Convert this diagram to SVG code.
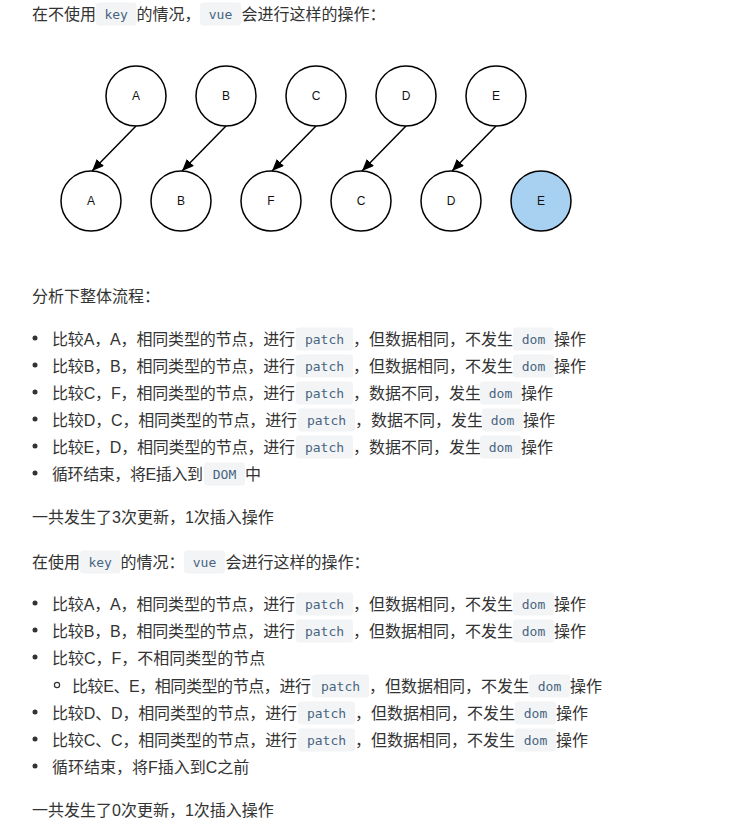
<svg xmlns="http://www.w3.org/2000/svg" width="731" height="829" viewBox="0 0 731 829">
<style>
.t{font-family:"Liberation Sans","Noto Sans CJK SC",sans-serif;font-size:16px;fill:#333}
.c{font-family:"DejaVu Sans Mono","Liberation Mono",monospace;font-size:13px;fill:#476582;text-anchor:middle}
.chip{fill:#f3f4f5}
.n circle{fill:#fff;stroke:#000;stroke-width:1.5}
.n text{font-family:"Liberation Sans",Arial,sans-serif;font-size:12px;fill:#111;text-anchor:middle}
.hl circle{fill:#a8d0f0}
.e line{stroke:#000;stroke-width:1.5}
.dot{fill:#333}
.odot{fill:none;stroke:#333;stroke-width:1.2}
</style>
<defs>
<marker id="ah" markerUnits="userSpaceOnUse" markerWidth="12" markerHeight="10" viewBox="0 0 12 10" refX="12" refY="5" orient="auto"><path d="M0,0 L12,5 L0,10 z" fill="#000"/></marker>
</defs>
<rect width="731" height="829" fill="#fff"/>

<g id="line1">
<text class="t" x="32" y="20">在不使用</text>
<rect class="chip" x="96" y="2.5" width="40.5" height="23" rx="3"/><text class="c" x="116.2" y="19">key</text>
<text class="t" x="136.5" y="20">的情况，</text>
<rect class="chip" x="200" y="2.5" width="41" height="23" rx="3"/><text class="c" x="220.5" y="19">vue</text>
<text class="t" x="241.5" y="20">会进行这样的操作：</text>
</g>

<g id="top-A" class="n"><circle cx="136" cy="96" r="30"/><text x="136" y="100">A</text></g>
<g id="top-B" class="n"><circle cx="226" cy="96" r="30"/><text x="226" y="100">B</text></g>
<g id="top-C" class="n"><circle cx="316" cy="96" r="30"/><text x="316" y="100">C</text></g>
<g id="top-D" class="n"><circle cx="406" cy="96" r="30"/><text x="406" y="100">D</text></g>
<g id="top-E" class="n"><circle cx="496" cy="96" r="30"/><text x="496" y="100">E</text></g>
<g id="bot-A" class="n"><circle cx="91" cy="201" r="30"/><text x="91" y="205">A</text></g>
<g id="bot-B" class="n"><circle cx="181" cy="201" r="30"/><text x="181" y="205">B</text></g>
<g id="bot-F" class="n"><circle cx="271" cy="201" r="30"/><text x="271" y="205">F</text></g>
<g id="bot-C" class="n"><circle cx="361" cy="201" r="30"/><text x="361" y="205">C</text></g>
<g id="bot-D" class="n"><circle cx="451" cy="201" r="30"/><text x="451" y="205">D</text></g>
<g id="bot-E" class="n hl"><circle cx="541" cy="201" r="30"/><text x="541" y="205">E</text></g>

<g id="connectors" class="e">
<line x1="136" y1="126" x2="92" y2="171" marker-end="url(#ah)"/>
<line x1="226" y1="126" x2="182" y2="171" marker-end="url(#ah)"/>
<line x1="316" y1="126" x2="272" y2="171" marker-end="url(#ah)"/>
<line x1="406" y1="126" x2="362" y2="171" marker-end="url(#ah)"/>
<line x1="496" y1="126" x2="452" y2="171" marker-end="url(#ah)"/>
</g>

<g id="section1">
<text class="t" x="32" y="302">分析下整体流程：</text>

<circle class="dot" cx="35" cy="338" r="2.5"/>
<text class="t" x="52" y="345" textLength="243" lengthAdjust="spacing">比较A，A，相同类型的节点，进行</text>
<rect class="chip" x="296" y="327.5" width="57" height="23" rx="3"/><text class="c" x="324.5" y="344">patch</text>
<text class="t" x="353" y="345">，但数据相同，不发生</text>
<rect class="chip" x="513" y="327.5" width="41" height="23" rx="3"/><text class="c" x="533.5" y="344">dom</text>
<text class="t" x="554" y="345">操作</text>

<circle class="dot" cx="35" cy="365" r="2.5"/>
<text class="t" x="52" y="372" textLength="243" lengthAdjust="spacing">比较B，B，相同类型的节点，进行</text>
<rect class="chip" x="296" y="354.5" width="57" height="23" rx="3"/><text class="c" x="324.5" y="371">patch</text>
<text class="t" x="353" y="372">，但数据相同，不发生</text>
<rect class="chip" x="513" y="354.5" width="41" height="23" rx="3"/><text class="c" x="533.5" y="371">dom</text>
<text class="t" x="554" y="372">操作</text>

<circle class="dot" cx="35" cy="392" r="2.5"/>
<text class="t" x="52" y="399" textLength="243" lengthAdjust="spacing">比较C，F，相同类型的节点，进行</text>
<rect class="chip" x="296" y="381.5" width="57" height="23" rx="3"/><text class="c" x="324.5" y="398">patch</text>
<text class="t" x="353" y="399">，数据不同，发生</text>
<rect class="chip" x="480" y="381.5" width="41" height="23" rx="3"/><text class="c" x="500.5" y="398">dom</text>
<text class="t" x="521" y="399">操作</text>

<circle class="dot" cx="35" cy="419" r="2.5"/>
<text class="t" x="52" y="426" textLength="245" lengthAdjust="spacing">比较D，C，相同类型的节点，进行</text>
<rect class="chip" x="298" y="408.5" width="57" height="23" rx="3"/><text class="c" x="326.5" y="425">patch</text>
<text class="t" x="355" y="426">，数据不同，发生</text>
<rect class="chip" x="482" y="408.5" width="41" height="23" rx="3"/><text class="c" x="502.5" y="425">dom</text>
<text class="t" x="523" y="426">操作</text>

<circle class="dot" cx="35" cy="446" r="2.5"/>
<text class="t" x="52" y="453" textLength="243" lengthAdjust="spacing">比较E，D，相同类型的节点，进行</text>
<rect class="chip" x="296" y="435.5" width="57" height="23" rx="3"/><text class="c" x="324.5" y="452">patch</text>
<text class="t" x="353" y="453">，数据不同，发生</text>
<rect class="chip" x="480" y="435.5" width="41" height="23" rx="3"/><text class="c" x="500.5" y="452">dom</text>
<text class="t" x="521" y="453">操作</text>

<circle class="dot" cx="35" cy="473" r="2.5"/>
<text class="t" x="52" y="480" textLength="151" lengthAdjust="spacing">循环结束，将E插入到</text>
<rect class="chip" x="204" y="462.5" width="41" height="23" rx="3"/><text class="c" x="224.5" y="479">DOM</text>
<text class="t" x="245" y="480">中</text>

<text class="t" x="32" y="523">一共发生了3次更新，1次插入操作</text>
</g>

<g id="section2">
<text class="t" x="32" y="568">在使用</text>
<rect class="chip" x="80" y="550.5" width="40.5" height="23" rx="3"/><text class="c" x="100.2" y="567">key</text>
<text class="t" x="120.5" y="568">的情况：</text>
<rect class="chip" x="184" y="550.5" width="41" height="23" rx="3"/><text class="c" x="204.5" y="567">vue</text>
<text class="t" x="225.5" y="568">会进行这样的操作：</text>

<circle class="dot" cx="35" cy="603" r="2.5"/>
<text class="t" x="52" y="610" textLength="243" lengthAdjust="spacing">比较A，A，相同类型的节点，进行</text>
<rect class="chip" x="296" y="592.5" width="57" height="23" rx="3"/><text class="c" x="324.5" y="609">patch</text>
<text class="t" x="353" y="610">，但数据相同，不发生</text>
<rect class="chip" x="513" y="592.5" width="41" height="23" rx="3"/><text class="c" x="533.5" y="609">dom</text>
<text class="t" x="554" y="610">操作</text>

<circle class="dot" cx="35" cy="630" r="2.5"/>
<text class="t" x="52" y="637" textLength="243" lengthAdjust="spacing">比较B，B，相同类型的节点，进行</text>
<rect class="chip" x="296" y="619.5" width="57" height="23" rx="3"/><text class="c" x="324.5" y="636">patch</text>
<text class="t" x="353" y="637">，但数据相同，不发生</text>
<rect class="chip" x="513" y="619.5" width="41" height="23" rx="3"/><text class="c" x="533.5" y="636">dom</text>
<text class="t" x="554" y="637">操作</text>

<circle class="dot" cx="35" cy="657" r="2.5"/>
<text class="t" x="52" y="664">比较C，F，不相同类型的节点</text>

<circle class="odot" cx="57" cy="685" r="2.6"/>
<text class="t" x="72" y="692" textLength="239" lengthAdjust="spacing">比较E、E，相同类型的节点，进行</text>
<rect class="chip" x="312" y="674.5" width="57" height="23" rx="3"/><text class="c" x="340.5" y="691">patch</text>
<text class="t" x="369" y="692">，但数据相同，不发生</text>
<rect class="chip" x="529" y="674.5" width="41" height="23" rx="3"/><text class="c" x="549.5" y="691">dom</text>
<text class="t" x="570" y="692">操作</text>

<circle class="dot" cx="35" cy="712" r="2.5"/>
<text class="t" x="52" y="719" textLength="245" lengthAdjust="spacing">比较D、D，相同类型的节点，进行</text>
<rect class="chip" x="298" y="701.5" width="57" height="23" rx="3"/><text class="c" x="326.5" y="718">patch</text>
<text class="t" x="355" y="719">，但数据相同，不发生</text>
<rect class="chip" x="515" y="701.5" width="41" height="23" rx="3"/><text class="c" x="535.5" y="718">dom</text>
<text class="t" x="556" y="719">操作</text>

<circle class="dot" cx="35" cy="739" r="2.5"/>
<text class="t" x="52" y="746" textLength="245" lengthAdjust="spacing">比较C、C，相同类型的节点，进行</text>
<rect class="chip" x="298" y="728.5" width="57" height="23" rx="3"/><text class="c" x="326.5" y="745">patch</text>
<text class="t" x="355" y="746">，但数据相同，不发生</text>
<rect class="chip" x="515" y="728.5" width="41" height="23" rx="3"/><text class="c" x="535.5" y="745">dom</text>
<text class="t" x="556" y="746">操作</text>

<circle class="dot" cx="35" cy="766" r="2.5"/>
<text class="t" x="52" y="773">循环结束，将F插入到C之前</text>

<text class="t" x="32" y="816">一共发生了0次更新，1次插入操作</text>
</g>
</svg>
